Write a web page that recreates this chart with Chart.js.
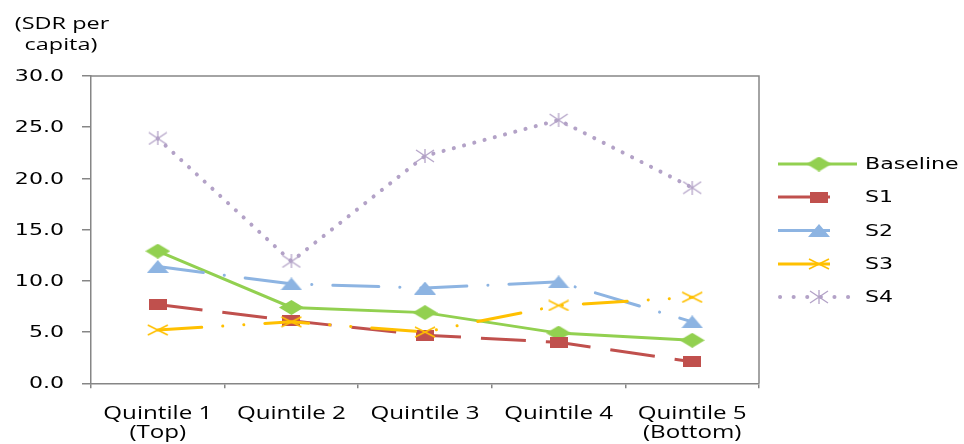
<!DOCTYPE html>
<html>
<head>
<meta charset="utf-8">
<script src="https://cdn.jsdelivr.net/npm/chart.js@4.4.0/dist/chart.umd.min.js"></script>
<style>
  html, body { margin: 0; padding: 0; background: #fff; }
  #wrap { width: 964px; height: 444px; }
</style>
</head>
<body>
<div id="wrap"><canvas id="chart" width="964" height="444"></canvas></div>
<script>
// Income quintiles on the x axis
const quintiles = [["Quintile 1", "(Top)"], "Quintile 2", "Quintile 3", "Quintile 4", ["Quintile 5", "(Bottom)"]];

// SDR per capita, by scenario
const baseline = [12.9, 7.4, 6.9, 4.9, 4.2];
const s1 = [7.7, 6.1, 4.7, 4.0, 2.1];
const s2 = [11.4, 9.7, 9.3, 9.9, 6.0];
const s3 = [5.2, 6.0, 5.0, 7.6, 8.4];
const s4 = [23.9, 11.9, 22.2, 25.7, 19.1];

const seriesNames = ["Baseline", "S1", "S2", "S3", "S4"];
const yMin = 0, yMax = 30, yStep = 5;

const GREEN = "#92D050", RED = "#C0504D", BLUE = "#8DB4E2", GOLD = "#FFC000", LILAC = "#B3A2C7";
const AXIS = "#868686";
const STRETCH = 1.38; // text in this chart is drawn wide

// small offscreen canvases used as point markers (wider than tall)
function marker(w, h, draw) {
  const c = document.createElement("canvas");
  c.width = w; c.height = h;
  draw(c.getContext("2d"), w, h);
  return c;
}
const diamond = marker(25, 15, (g, w, h) => {
  g.fillStyle = GREEN;
  g.beginPath();
  g.moveTo(w / 2, 0); g.lineTo(w, h / 2); g.lineTo(w / 2, h); g.lineTo(0, h / 2);
  g.closePath(); g.fill();
});
const square = marker(18, 11, (g, w, h) => {
  g.fillStyle = RED;
  g.fillRect(0, 0, w, h);
});
const triangle = marker(22, 13, (g, w, h) => {
  g.fillStyle = BLUE;
  g.beginPath();
  g.moveTo(w / 2, 0); g.lineTo(w, h); g.lineTo(0, h);
  g.closePath(); g.fill();
});
const cross = marker(22, 12, (g, w, h) => {
  g.strokeStyle = GOLD; g.lineWidth = 1.6;
  g.beginPath();
  g.moveTo(1, 1); g.lineTo(w - 1, h - 1);
  g.moveTo(w - 1, 1); g.lineTo(1, h - 1);
  g.stroke();
});
const star = marker(20, 14, (g, w, h) => {
  g.strokeStyle = LILAC; g.lineWidth = 1.3;
  g.beginPath();
  g.moveTo(1, 1); g.lineTo(w - 1, h - 1);
  g.moveTo(w - 1, 1); g.lineTo(1, h - 1);
  g.moveTo(w / 2, 0); g.lineTo(w / 2, h);
  g.stroke();
});

// text drawn with a horizontal stretch
function wideText(ctx, text, x, y, align) {
  ctx.save();
  ctx.translate(x, y);
  ctx.scale(STRETCH, 1);
  ctx.textAlign = align;
  ctx.textBaseline = "middle";
  ctx.fillText(text, 0, 0);
  ctx.restore();
}

const decorations = {
  id: "decorations",
  afterDraw(chart) {
    const ctx = chart.ctx;
    const area = chart.chartArea;
    const x = chart.scales.x;
    const y = chart.scales.y;

    // top and right edges of the plot box
    ctx.save();
    ctx.strokeStyle = AXIS;
    ctx.lineWidth = 1.5;
    ctx.beginPath();
    ctx.moveTo(area.left, area.top);
    ctx.lineTo(area.right, area.top);
    ctx.lineTo(area.right, area.bottom);
    ctx.stroke();
    ctx.restore();

    ctx.save();
    ctx.fillStyle = "#000";

    // y tick labels
    ctx.font = '16px "DejaVu Sans"';
    y.ticks.forEach(t => {
      wideText(ctx, t.value.toFixed(1), 64, y.getPixelForValue(t.value) + 1, "right");
    });

    // x category labels
    ctx.font = '17.5px "Open Sans"';
    chart.data.labels.forEach((lab, i) => {
      const lines = Array.isArray(lab) ? lab : [lab];
      const px = x.getPixelForValue(i);
      lines.forEach((ln, j) => wideText(ctx, ln, px, 414 + j * 19.5, "center"));
    });

    // axis unit label
    ctx.font = '17px "Open Sans"';
    wideText(ctx, "(SDR per", 62, 24, "center");
    wideText(ctx, "capita)", 61, 45, "center");
    ctx.restore();

    // legend
    const rows = [164, 197, 230.5, 264, 297];
    const lineEnds = [857, 830, 830, 830, 850];
    const marks = [diamond, square, triangle, cross, star];
    chart.data.datasets.forEach((ds, i) => {
      const ly = rows[i];
      ctx.save();
      ctx.strokeStyle = ds.borderColor;
      ctx.lineWidth = i === 4 ? 4 : 3;
      ctx.lineCap = i === 4 ? "round" : "butt";
      ctx.setLineDash(i === 4 ? [0.1, 13.5] : []);
      ctx.beginPath();
      ctx.moveTo(i === 4 ? 780 : 778, ly);
      ctx.lineTo(lineEnds[i], ly);
      ctx.stroke();
      ctx.restore();
      const m = marks[i];
      ctx.drawImage(m, 819 - m.width / 2, ly - m.height / 2);
      ctx.save();
      ctx.fillStyle = "#000";
      ctx.font = '16px "DejaVu Sans"';
      wideText(ctx, ds.label, 865, ly + 1, "left");
      ctx.restore();
    });
  }
};

const common = { fill: false, tension: 0, borderWidth: 3, pointRadius: 8, pointHoverRadius: 8 };

function draw() {
  new Chart(document.getElementById("chart"), {
    type: "line",
    data: {
      labels: quintiles,
      datasets: [
        { ...common, label: seriesNames[0], data: baseline, borderColor: GREEN, pointStyle: diamond, order: 5 },
        { ...common, label: seriesNames[1], data: s1, borderColor: RED, borderDash: [45, 20], pointStyle: square, order: 4 },
        { ...common, label: seriesNames[2], data: s2, borderColor: BLUE, borderDash: [46, 21, 0.1, 21], borderCapStyle: "round", pointStyle: triangle, order: 3 },
        { ...common, label: seriesNames[3], data: s3, borderColor: GOLD, borderDash: [44, 21, 0.1, 21, 0.1, 21], borderCapStyle: "round", pointStyle: cross, order: 2 },
        { ...common, label: seriesNames[4], data: s4, borderColor: LILAC, borderWidth: 4, borderDash: [0.1, 10.5], borderCapStyle: "round", pointStyle: star, order: 1 }
      ]
    },
    options: {
      responsive: false,
      animation: false,
      events: [],
      layout: { padding: { left: 0, right: 205, top: 76, bottom: 0 } },
      plugins: {
        legend: { display: false },
        tooltip: { enabled: false },
        title: { display: false }
      },
      scales: {
        x: {
          offset: true,
          grid: { offset: true, drawOnChartArea: false, drawTicks: true, tickLength: 5, color: AXIS, lineWidth: 1.5 },
          border: { color: AXIS, width: 1.5 },
          ticks: { display: false, autoSkip: false },
          afterFit(scale) { scale.height = 60.7; }
        },
        y: {
          min: yMin,
          max: yMax,
          grid: { drawOnChartArea: false, drawTicks: true, tickLength: 9, color: AXIS, lineWidth: 1.5 },
          border: { color: AXIS, width: 1.5 },
          ticks: { display: false, stepSize: yStep },
          afterFit(scale) { scale.width = 91; }
        }
      }
    },
    plugins: [decorations]
  });
}

// make sure the installed faces are ready before the canvas text is drawn
Promise.all([
  document.fonts.load('17px "Open Sans"'),
  document.fonts.load('16px "DejaVu Sans"')
]).then(draw, draw);
</script>
</body>
</html>
